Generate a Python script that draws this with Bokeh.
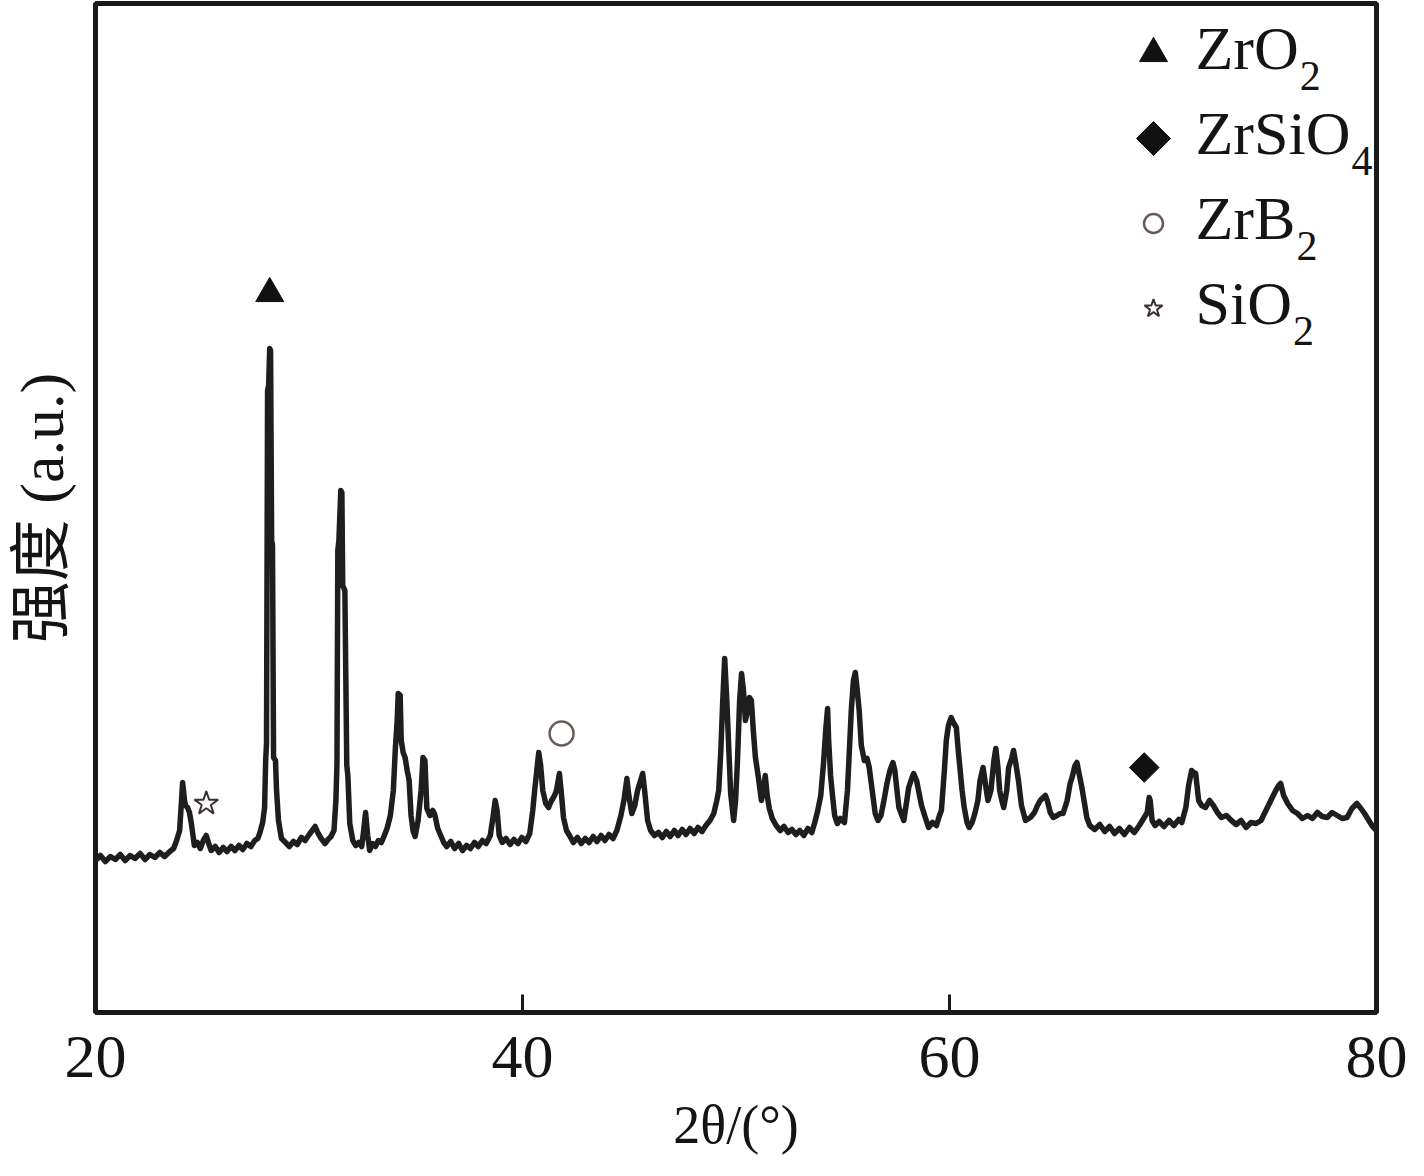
from math import pi
from bokeh.plotting import figure
from bokeh.models import Label, Range1d, FixedTicker
from bokeh.embed import file_html
from bokeh.resources import INLINE

# ---------------- data ----------------
two_theta = [
    20.00, 20.23, 20.46, 20.70, 20.93, 21.16, 21.39, 21.62, 21.85, 22.09, 22.32, 22.55, 22.78, 23.01, 23.24, 23.48,
    23.66, 23.80, 23.94, 24.03, 24.08, 24.17, 24.22, 24.31, 24.40, 24.49, 24.63, 24.77, 24.91, 25.05, 25.19, 25.33,
    25.42, 25.61, 25.79, 25.98, 26.16, 26.35, 26.53, 26.72, 26.90, 27.09, 27.28, 27.46, 27.60, 27.69, 27.83, 27.92,
    27.97, 28.01, 28.06, 28.11, 28.16, 28.20, 28.25, 28.29, 28.34, 28.43, 28.48, 28.57, 28.71, 28.90, 29.08, 29.27,
    29.45, 29.64, 29.82, 30.01, 30.15, 30.29, 30.43, 30.57, 30.75, 30.89, 31.03, 31.17, 31.26, 31.31, 31.35, 31.40,
    31.49, 31.54, 31.58, 31.68, 31.77, 31.82, 31.91, 32.05, 32.19, 32.33, 32.47, 32.56, 32.65, 32.75, 32.84, 32.98,
    33.11, 33.25, 33.39, 33.53, 33.67, 33.81, 33.95, 34.04, 34.13, 34.18, 34.27, 34.32, 34.41, 34.50, 34.60, 34.69,
    34.78, 34.87, 34.97, 35.11, 35.25, 35.34, 35.43, 35.52, 35.66, 35.80, 35.89, 36.03, 36.17, 36.31, 36.45, 36.64,
    36.82, 37.01, 37.19, 37.38, 37.56, 37.75, 37.93, 38.12, 38.30, 38.49, 38.63, 38.72, 38.81, 38.91, 39.05, 39.23,
    39.42, 39.60, 39.79, 39.97, 40.16, 40.34, 40.48, 40.57, 40.67, 40.76, 40.85, 40.95, 41.09, 41.22, 41.36, 41.50,
    41.59, 41.73, 41.83, 41.92, 42.06, 42.20, 42.38, 42.57, 42.75, 42.94, 43.12, 43.31, 43.49, 43.68, 43.86, 44.05,
    44.24, 44.42, 44.61, 44.75, 44.89, 44.98, 45.12, 45.26, 45.39, 45.53, 45.63, 45.72, 45.86, 46.00, 46.18, 46.37,
    46.55, 46.74, 46.92, 47.11, 47.29, 47.48, 47.66, 47.85, 48.04, 48.22, 48.41, 48.59, 48.78, 48.96, 49.10, 49.19,
    49.29, 49.38, 49.47, 49.57, 49.66, 49.75, 49.89, 49.98, 50.07, 50.17, 50.26, 50.35, 50.44, 50.54, 50.63, 50.72,
    50.81, 50.91, 51.05, 51.19, 51.28, 51.37, 51.46, 51.56, 51.70, 51.88, 52.07, 52.25, 52.44, 52.62, 52.81, 52.99,
    53.18, 53.36, 53.55, 53.69, 53.83, 53.97, 54.11, 54.20, 54.29, 54.34, 54.43, 54.52, 54.62, 54.75, 54.89, 55.08,
    55.22, 55.31, 55.40, 55.50, 55.59, 55.68, 55.77, 55.87, 56.01, 56.14, 56.24, 56.38, 56.52, 56.65, 56.79, 56.93,
    57.07, 57.21, 57.35, 57.44, 57.54, 57.63, 57.77, 57.86, 58.00, 58.09, 58.23, 58.32, 58.46, 58.55, 58.69, 58.88,
    59.02, 59.20, 59.39, 59.53, 59.62, 59.76, 59.85, 59.95, 60.08, 60.18, 60.32, 60.41, 60.50, 60.59, 60.69, 60.82,
    60.92, 61.06, 61.20, 61.33, 61.43, 61.57, 61.66, 61.80, 61.94, 62.08, 62.17, 62.26, 62.35, 62.45, 62.54, 62.68,
    62.77, 62.91, 63.00, 63.10, 63.23, 63.37, 63.56, 63.79, 63.98, 64.12, 64.25, 64.39, 64.49, 64.58, 64.72, 64.86,
    65.04, 65.18, 65.32, 65.51, 65.65, 65.74, 65.88, 65.97, 66.06, 66.20, 66.34, 66.43, 66.57, 66.80, 67.04, 67.27,
    67.50, 67.73, 67.96, 68.19, 68.43, 68.66, 68.89, 69.12, 69.26, 69.35, 69.40, 69.49, 69.63, 69.82, 70.05, 70.28,
    70.51, 70.74, 70.88, 71.07, 71.20, 71.34, 71.44, 71.53, 71.67, 71.81, 71.99, 72.18, 72.36, 72.55, 72.73, 72.97,
    73.20, 73.43, 73.66, 73.89, 74.12, 74.36, 74.59, 74.82, 75.05, 75.28, 75.42, 75.51, 75.65, 75.84, 76.07, 76.30,
    76.53, 76.77, 77.00, 77.23, 77.46, 77.69, 77.92, 78.16, 78.39, 78.62, 78.85, 79.08, 79.27, 79.44, 79.64, 79.82,
    80.00,
]
intensity = [
    152, 157, 151, 156, 153, 158, 152, 157, 154, 159, 153, 158, 155, 160, 156, 161,
    164, 172, 182, 212, 230, 212, 207, 205, 200, 189, 167, 170, 164, 172, 177, 167,
    162, 166, 160, 165, 161, 166, 162, 167, 163, 169, 166, 172, 174, 179, 190, 205,
    252, 269, 622, 627, 664, 662, 472, 467, 255, 252, 222, 192, 174, 170, 166, 171,
    168, 175, 172, 178, 182, 186, 179, 174, 169, 173, 176, 182, 212, 249, 462, 472,
    522, 520, 427, 422, 247, 237, 189, 172, 167, 170, 166, 182, 200, 177, 162, 169,
    166, 172, 170, 177, 185, 197, 222, 262, 292, 319, 317, 272, 260, 255, 242, 232,
    197, 182, 176, 192, 222, 255, 252, 204, 197, 202, 198, 184, 177, 170, 166, 171,
    164, 169, 162, 167, 164, 170, 166, 172, 169, 177, 197, 212, 202, 177, 170, 174,
    168, 173, 169, 175, 171, 179, 202, 222, 242, 260, 247, 222, 209, 205, 212, 217,
    222, 239, 217, 195, 182, 177, 170, 175, 169, 174, 170, 176, 171, 177, 172, 178,
    174, 182, 197, 212, 234, 217, 199, 207, 222, 232, 239, 222, 192, 182, 177, 180,
    175, 181, 176, 182, 177, 183, 178, 184, 179, 185, 181, 187, 192, 199, 212, 222,
    262, 312, 354, 312, 265, 219, 192, 212, 252, 312, 339, 322, 292, 302, 315, 312,
    282, 255, 235, 212, 222, 237, 217, 204, 194, 187, 182, 186, 180, 183, 178, 182,
    177, 184, 180, 190, 202, 217, 252, 282, 304, 272, 237, 217, 197, 189, 194, 190,
    222, 262, 302, 332, 340, 322, 302, 267, 252, 254, 245, 222, 199, 192, 197, 212,
    229, 242, 250, 242, 222, 205, 197, 192, 212, 225, 234, 239, 232, 222, 207, 194,
    185, 190, 187, 197, 202, 242, 272, 287, 295, 290, 285, 262, 242, 222, 205, 190,
    185, 190, 200, 212, 232, 245, 232, 212, 222, 252, 264, 247, 222, 212, 205, 222,
    245, 254, 262, 250, 232, 207, 192, 195, 200, 207, 212, 215, 217, 212, 200, 195,
    197, 199, 199, 212, 229, 235, 247, 250, 240, 225, 207, 195, 187, 183, 188, 181,
    186, 179, 184, 178, 185, 180, 187, 195, 200, 215, 212, 192, 187, 191, 186, 192,
    187, 193, 190, 205, 227, 242, 240, 239, 212, 207, 205, 212, 207, 200, 195, 197,
    192, 188, 192, 185, 190, 189, 192, 202, 212, 222, 227, 229, 217, 209, 202, 199,
    194, 197, 194, 200, 196, 195, 200, 197, 194, 195, 204, 209, 204, 199, 192, 186,
    182,
]

x_ticks = [20, 40, 60, 80]

# phase identification: name, subscript, marker, peak position and marker height
phase_names = ["ZrO", "ZrSiO", "ZrB", "SiO"]
phase_subscripts = ["2", "4", "2", "2"]
phase_markers = ["triangle", "diamond", "circle", "star"]
marker_2theta = [28.16, 69.12, 41.83, 25.19]
marker_intensity = [719, 245, 279, 209]

# ---------------- layout constants ----------------
W, H = 1408, 1160
BL, BR, BT, BB = 95, 32, 3, 148
frame_w = W - BL - BR
px_per_deg = frame_w / 60.0
SERIF = "Liberation Serif"
INK = "#141414"


def dx(pixels):
    return pixels / px_per_deg


p = figure(width=W, height=H, output_backend="svg", toolbar_location=None,
           x_range=Range1d(20, 80), y_range=Range1d(0, H - BT - BB),
           min_border_left=BL, min_border_right=BR, min_border_top=BT, min_border_bottom=BB)
p.background_fill_color = "white"
p.border_fill_color = "white"
p.outline_line_color = "#1a1a1a"
p.outline_line_width = 5
p.xgrid.visible = False
p.ygrid.visible = False

ax = p.xaxis[0]
ax.ticker = FixedTicker(ticks=x_ticks)
ax.axis_line_color = None
ax.major_tick_in = 18
ax.major_tick_out = 0
ax.major_tick_line_width = 3
ax.major_tick_line_color = "#1a1a1a"
ax.minor_tick_line_color = None
ax.major_label_text_font = SERIF
ax.major_label_text_font_size = "62px"
ax.major_label_text_color = INK
ax.major_label_standoff = 24
ax.axis_label = "2θ/(°)"
ax.axis_label_text_font = SERIF
ax.axis_label_text_font_style = "normal"
ax.axis_label_text_font_size = "54px"
ax.axis_label_text_color = INK
ax.axis_label_standoff = 15

ay = p.yaxis[0]
ay.ticker = FixedTicker(ticks=[])
ay.axis_line_color = None
ay.major_tick_in = 0
ay.major_tick_out = 0
ay.minor_tick_line_color = None
ay.major_label_standoff = 0
ay.axis_label = "强度 (a.u.)"
ay.axis_label_text_font = "Liberation Serif, Noto Sans CJK SC"
ay.axis_label_text_font_style = "normal"
ay.axis_label_text_font_size = "62px"
ay.axis_label_text_color = INK
ay.axis_label_standoff = 20

# spectrum
p.line(two_theta, intensity, line_width=5.5, line_color="#1e1e1e", line_join="round")

marker_style = {
    "triangle": dict(marker="triangle", fill_color="#111111", line_color="#111111", line_width=1, angle=0.0),
    "diamond": dict(marker="square", fill_color="#111111", line_color="#111111", line_width=1, angle=pi / 4),
    "circle": dict(marker="circle", fill_color="white", line_color="#6a5a58", line_width=2.5, angle=0.0),
    "star": dict(marker="star", fill_color="white", line_color="#3d302e", line_width=2, angle=0.0),
}
peak_sizes = {"triangle": 28, "diamond": 21, "circle": 24, "star": 25}
legend_sizes = {"triangle": 28, "diamond": 24, "circle": 19, "star": 19}

# markers above peaks
for m, xv, yv in zip(phase_markers, marker_2theta, marker_intensity):
    p.scatter([xv], [yv], size=peak_sizes[m], **marker_style[m])

# legend (manual, with subscripts)
glyph_w = {"Z": 0.611, "r": 0.333, "O": 0.722, "S": 0.556, "i": 0.278, "B": 0.667}
leg_marker_x = 20 + dx(1153 - BL)
leg_text_x = 20 + dx(1195 - BL)
leg_top = 959
row_gap = 85
fs_main = 62
for i, (name, sub, m) in enumerate(zip(phase_names, phase_subscripts, phase_markers)):
    yc = leg_top - i * row_gap
    p.scatter([leg_marker_x], [yc], size=legend_sizes[m], **marker_style[m])
    p.add_layout(Label(x=leg_text_x, y=yc + 6, text=name, text_font=SERIF,
                       text_font_size=f"{fs_main}px", text_color=INK,
                       text_align="left", text_baseline="alphabetic"))
    wpx = sum(glyph_w[c] for c in name) * fs_main
    p.add_layout(Label(x=leg_text_x + dx(wpx + 1), y=yc - 22, text=sub, text_font=SERIF,
                       text_font_size="42px", text_color=INK,
                       text_align="left", text_baseline="alphabetic"))

open("out.html", "w").write(file_html(p, INLINE))
